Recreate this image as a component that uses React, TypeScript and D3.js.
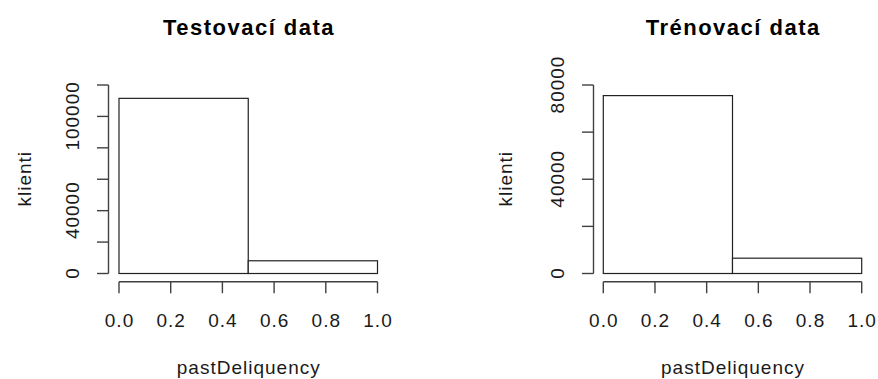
import React from "react";
import * as d3 from "d3";

// ---- data ----
const binEdges = [0, 0.5, 1.0];
const testCounts = [111500, 8100];
const trainCounts = [75500, 6500];

const xTicks = [0, 0.2, 0.4, 0.6, 0.8, 1.0];
const xTickLabels = ["0.0", "0.2", "0.4", "0.6", "0.8", "1.0"];

const testYTicks = [0, 20000, 40000, 60000, 80000, 100000, 120000];
const testYLabels = ["0", "", "40000", "", "", "100000", ""];
const trainYTicks = [0, 20000, 40000, 60000, 80000];
const trainYLabels = ["0", "", "40000", "", "80000"];

const titles = ["Testovací data", "Trénovací data"];
const xLabel = "pastDeliquency";
const yLabel = "klienti";

const FONT = "'Liberation Sans', Arimo, Helvetica, Arial, sans-serif";
const FS = 19;
const LS = 1;

type PanelProps = {
  title: string;
  counts: number[];
  yTicks: number[];
  yLabels: string[];
  x0: number;
  x1: number;
  axisX: number;
  yLabX: number;
  yTickLabX: number;
};

function Panel({ title, counts, yTicks, yLabels, x0, x1, axisX, yLabX, yTickLabX }: PanelProps) {
  const yBottom = 273.5;
  const yTop = 85;
  const x = d3.scaleLinear().domain([0, 1]).range([x0, x1]);
  const y = d3.scaleLinear().domain([0, yTicks[yTicks.length - 1]]).range([yBottom, yTop]);
  const xAxisY = 281.7;
  const tickLen = 11.5;
  const axisColor = "#404040";
  const cx = (x0 + x1) / 2;
  return (
    <g>
      <text x={cx + 0.75} y={34.5} textAnchor="middle" fontFamily={FONT} fontWeight="bold" fontSize={22} letterSpacing={1.5} fill="#000">
        {title}
      </text>
      {/* bars */}
      {counts.map((c, i) => (
        <rect
          key={i}
          x={x(binEdges[i])}
          y={y(c)}
          width={x(binEdges[i + 1]) - x(binEdges[i])}
          height={y(0) - y(c)}
          fill="#fff"
          stroke="#222"
          strokeWidth={1.2}
        />
      ))}
      {/* x axis */}
      <line x1={x(0)} x2={x(1)} y1={xAxisY} y2={xAxisY} stroke={axisColor} strokeWidth={1.4} />
      {xTicks.map((t, i) => (
        <g key={i}>
          <line x1={x(t)} x2={x(t)} y1={xAxisY} y2={xAxisY + tickLen} stroke={axisColor} strokeWidth={1.4} />
          <text x={x(t) + LS / 2} y={326.5} textAnchor="middle" fontFamily={FONT} fontSize={FS} letterSpacing={LS} fill="#1a1a1a">
            {xTickLabels[i]}
          </text>
        </g>
      ))}
      {/* y axis */}
      <line x1={axisX} x2={axisX} y1={y(0)} y2={y(yTicks[yTicks.length - 1])} stroke={axisColor} strokeWidth={1.4} />
      {yTicks.map((t, i) => (
        <g key={i}>
          <line x1={axisX - tickLen} x2={axisX} y1={y(t)} y2={y(t)} stroke={axisColor} strokeWidth={1.4} />
          {yLabels[i] ? (
            <text
              transform={`translate(${yTickLabX},${y(t) - LS / 2}) rotate(-90)`}
              textAnchor="middle"
              fontFamily={FONT}
              fontSize={FS}
              letterSpacing={LS}
              fill="#1a1a1a"
            >
              {yLabels[i]}
            </text>
          ) : null}
        </g>
      ))}
      <text x={cx + LS / 2} y={374} textAnchor="middle" fontFamily={FONT} fontSize={FS} letterSpacing={LS} fill="#1a1a1a">
        {xLabel}
      </text>
      <text
        transform={`translate(${yLabX},${(yTop + yBottom) / 2 - LS / 2}) rotate(-90)`}
        textAnchor="middle"
        fontFamily={FONT}
        fontSize={FS}
        letterSpacing={LS}
        fill="#1a1a1a"
      >
        {yLabel}
      </text>
    </g>
  );
}

export default function App() {
  return (
    <svg
      width={878}
      height={379}
      style={{ position: "absolute", left: 0, top: 0, background: "#fff" }}
    >
      <rect width={878} height={379} fill="#fff" />
      <Panel
        title={titles[0]}
        counts={testCounts}
        yTicks={testYTicks}
        yLabels={testYLabels}
        x0={119}
        x1={377.5}
        axisX={108.5}
        yLabX={31}
        yTickLabX={79}
      />
      <Panel
        title={titles[1]}
        counts={trainCounts}
        yTicks={trainYTicks}
        yLabels={trainYLabels}
        x0={603.3}
        x1={861.7}
        axisX={593.5}
        yLabX={512}
        yTickLabX={564}
      />
    </svg>
  );
}
